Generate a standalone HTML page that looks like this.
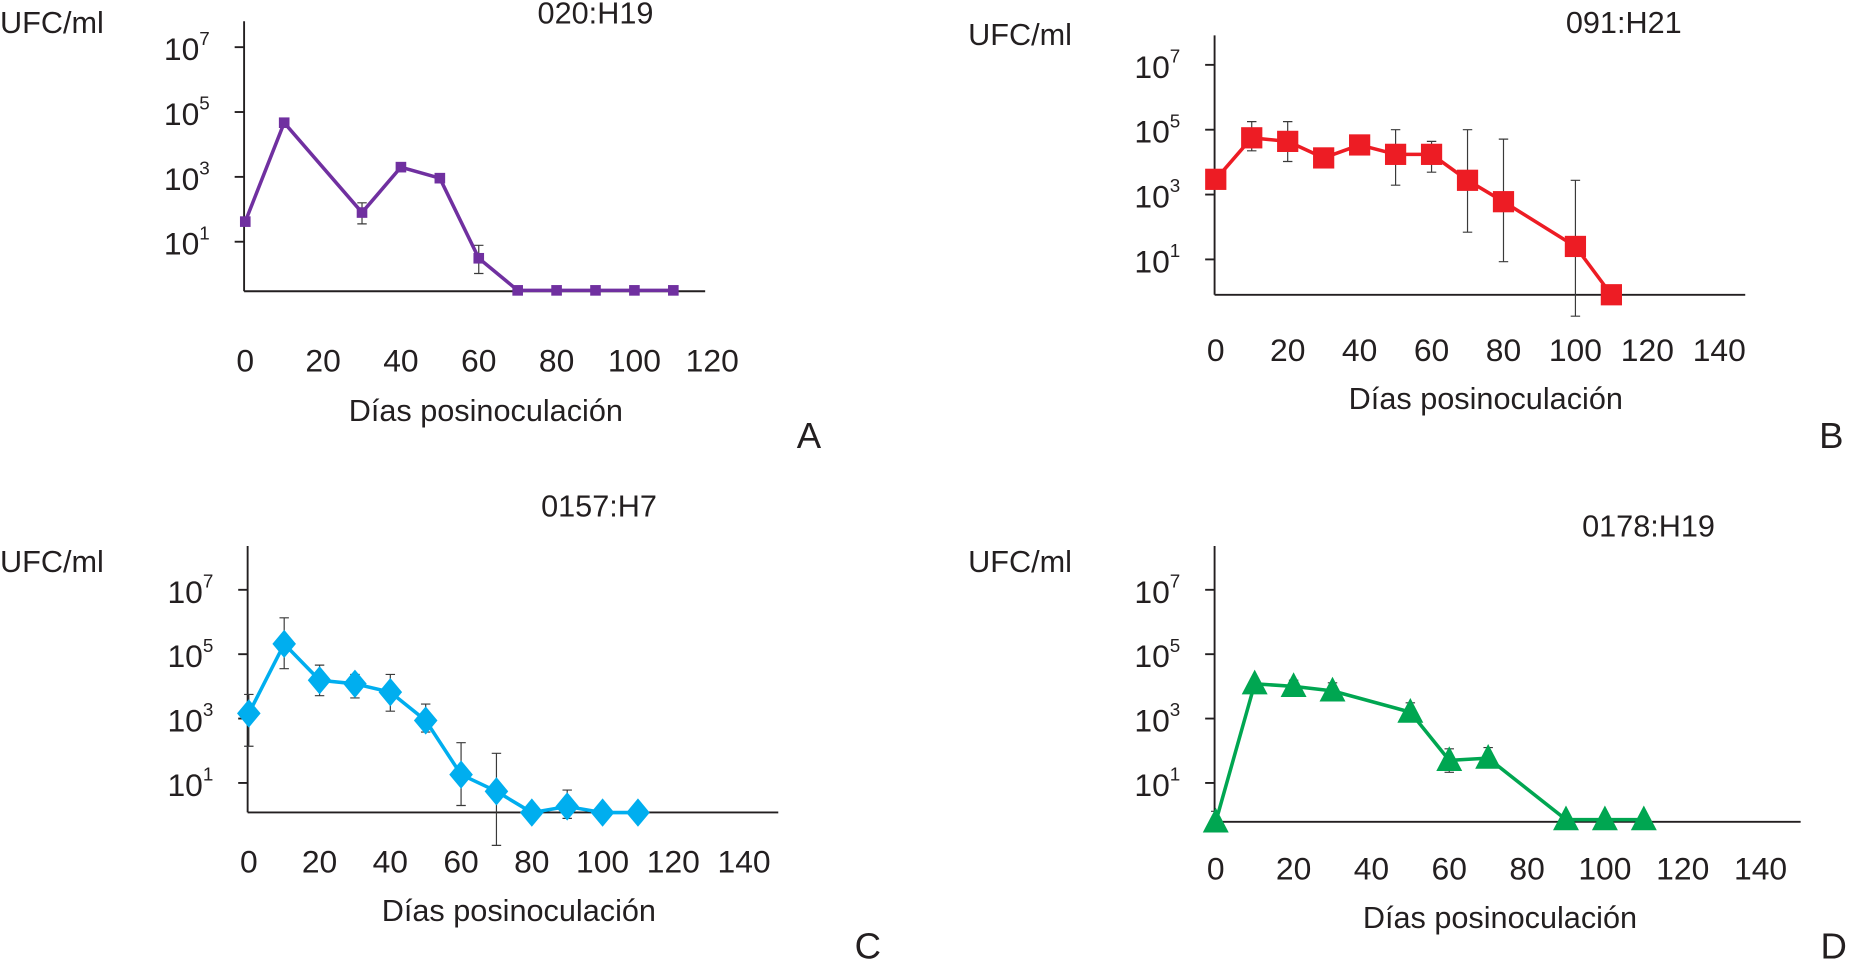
<!DOCTYPE html>
<html><head><meta charset="utf-8"><style>
html,body{margin:0;padding:0;background:#fff;width:1849px;height:961px;overflow:hidden}
svg{display:block}
text{font-family:"Liberation Sans",Arial,sans-serif;fill:#231f20}
</style></head><body>
<svg id="chart" width="1849" height="961" viewBox="0 0 1568 815" preserveAspectRatio="none" xmlns="http://www.w3.org/2000/svg"></svg>
<script>
// ---- data (log10 UFC/ml) ----
const yTickExps = [1, 3, 5, 7];

const titleA = "020:H19";
const daysA = [0, 10, 30, 40, 50, 60, 70, 80, 90, 100, 110];
const valsA = [1.62, 4.67, 1.9, 3.3, 2.96, 0.49, -0.5, -0.5, -0.5, -0.5, -0.5];
const errLoA = [null, null, 1.55, null, null, 0.02, null, null, null, null, null];
const errHiA = [null, null, 2.2, null, null, 0.89, null, null, null, null, null];
const xTicksA = [0, 20, 40, 60, 80, 100, 120];

const titleB = "091:H21";
const daysB = [0, 10, 20, 30, 40, 50, 60, 70, 80, 100, 110];
const valsB = [3.47, 4.75, 4.64, 4.13, 4.53, 4.24, 4.24, 3.44, 2.78, 1.4, -0.09];
const errLoB = [null, 4.35, 4.02, null, null, 3.29, 3.69, 1.84, 0.93, -0.75, null];
const errHiB = [null, 5.25, 5.25, null, null, 5.0, 4.64, 5.0, 4.71, 3.44, null];
const xTicksB = [0, 20, 40, 60, 80, 100, 120, 140];

const titleC = "0157:H7";
const daysC = [0, 10, 20, 30, 40, 50, 60, 70, 80, 90, 100, 110];
const valsC = [3.16, 5.32, 4.19, 4.08, 3.82, 2.94, 1.26, 0.74, 0.08, 0.27, 0.08, 0.08];
const errLoC = [2.14, 4.55, 3.71, 3.64, 3.23, 2.58, 0.3, -0.94, null, -0.1, null, null];
const errHiC = [3.75, 6.13, 4.66, 4.37, 4.37, 3.45, 2.25, 1.92, null, 0.78, null, null];
const xTicksC = [0, 20, 40, 60, 80, 100, 120, 140];

const titleD = "0178:H19";
const daysD = [0, 10, 20, 30, 50, 60, 70, 90, 100, 110];
const valsD = [-0.21, 4.08, 4.0, 3.86, 3.2, 1.7, 1.77, -0.14, -0.14, -0.14];
const errLoD = [null, null, null, null, null, 1.33, null, null, null, null];
const errHiD = [0.12, 4.22, 4.19, 4.11, 3.49, 2.06, 2.1, -0.03, -0.03, -0.03];
const xTicksD = [0, 20, 40, 60, 80, 100, 120, 140];

const NS = "http://www.w3.org/2000/svg";
const svg = document.getElementById("chart");
function mk(tag, attrs, parent) {
  const e = document.createElementNS(NS, tag);
  for (const k in attrs) e.setAttribute(k, attrs[k]);
  (parent || svg).appendChild(e);
  return e;
}

const panels = [
  {id:"a", title:titleA, d:daysA, v:valsA, lo:errLoA, hi:errHiA, xt:xTicksA, color:"#7030a0", marker:"smallsq",
   ax:207, axTop:18, base:247, axRight:598, y1:205, dec:27.5, pxDay:3.3, tickY:315,
   ufc:[0,28], titleXY:[505,20], xtitle:[412,357], letter:["A",686,380]},
  {id:"b", title:titleB, d:daysB, v:valsB, lo:errLoB, hi:errHiB, xt:xTicksB, color:"#ed1c24", marker:"square",
   ax:1030, axTop:30, base:250, axRight:1480, y1:220, dec:27.5, pxDay:3.05, tickY:306,
   ufc:[821,38], titleXY:[1377,28], xtitle:[1260,347], letter:["B",1553,380]},
  {id:"c", title:titleC, d:daysC, v:valsC, lo:errLoC, hi:errHiC, xt:xTicksC, color:"#00aeef", marker:"diamond",
   ax:210, axTop:463, base:689, axRight:660, y1:664, dec:27.3, pxDay:3.0, tickY:740,
   ufc:[0,485], titleXY:[508,438], xtitle:[440,781], letter:["C",736,813]},
  {id:"d", title:titleD, d:daysD, v:valsD, lo:errLoD, hi:errHiD, xt:xTicksD, color:"#00a651", marker:"triangle",
   ax:1030, axTop:463, base:697, axRight:1527, y1:664, dec:27.3, pxDay:3.3, tickY:746,
   ufc:[821,485], titleXY:[1398,455], xtitle:[1272,787], letter:["D",1555,813]}
];

panels.forEach(p => {
  const g = mk("g", {});
  
  
  const xS = d => p.ax + 1 + d * p.pxDay;
  const yS = l => p.y1 - (l - 1) * p.dec;

  const u = mk("text", {x:p.ufc[0], y:p.ufc[1], "font-size":26}, g);
  u.textContent = "UFC/ml";
  
  

  const t = mk("text", {x:p.titleXY[0], y:p.titleXY[1], "font-size":26, "text-anchor":"middle"}, g);
  t.textContent = p.title;
  
  

  const xt = mk("text", {x:p.xtitle[0], y:p.xtitle[1], "font-size":26, "text-anchor":"middle"}, g);
  xt.textContent = "Días posinoculación";
  
  

  const lt = mk("text", {x:p.letter[1], y:p.letter[2], "font-size":31, "text-anchor":"middle"}, g);
  lt.textContent = p.letter[0];
  
  

  const ya = mk("line", {x1:p.ax, y1:p.axTop, x2:p.ax, y2:p.base, stroke:"#231f20", "stroke-width":1.6}, g);
  
  
  const xa = mk("line", {x1:p.ax, y1:p.base, x2:p.axRight, y2:p.base, stroke:"#231f20", "stroke-width":1.6}, g);
  
  

  yTickExps.forEach(e => {
    const y = yS(e);
    const tk = mk("line", {x1:p.ax - 8, y1:y, x2:p.ax, y2:y, stroke:"#231f20", "stroke-width":1.6}, g);
    
    
    const lab = mk("text", {x:p.ax - 68, y:y + 11, "font-size":27}, g);
    lab.textContent = "10";
    const sup = mk("tspan", {dy:-13, "font-size":16}, lab);
    sup.textContent = String(e);
    
    
  });

  p.xt.forEach(d => {
    const lab = mk("text", {x:xS(d), y:p.tickY, "font-size":27, "text-anchor":"middle"}, g);
    lab.textContent = String(d);
    
    
  });

  p.d.forEach((d, i) => {
    if (p.hi[i] === null && p.lo[i] === null) return;
    const x = xS(d);
    const yt = yS(p.hi[i] !== null ? p.hi[i] : p.v[i]);
    const yb = yS(p.lo[i] !== null ? p.lo[i] : p.v[i]);
    const eb = mk("path", {d:`M${x},${yt}V${yb}M${x-4},${yt}H${x+4}` + (p.lo[i] !== null ? `M${x-4},${yb}H${x+4}` : ""),
      stroke:"#3a3a3a", "stroke-width":1, fill:"none"}, g);
    
    
  });

  const pts = p.d.map((d, i) => xS(d) + "," + yS(p.v[i])).join(" ");
  const line = mk("polyline", {points:pts, fill:"none", stroke:p.color, "stroke-width":3, "stroke-linejoin":"round"}, g);
  
  

  p.d.forEach((d, i) => {
    const x = xS(d), y = yS(p.v[i]);
    let m;
    if (p.marker === "smallsq") m = mk("rect", {x:x-4.5, y:y-4.5, width:9, height:9, fill:p.color}, g);
    else if (p.marker === "square") m = mk("rect", {x:x-9, y:y-9, width:18, height:18, fill:p.color}, g);
    else if (p.marker === "diamond") m = mk("polygon", {points:`${x},${y-12} ${x+10},${y} ${x},${y+12} ${x-10},${y}`, fill:p.color}, g);
    else m = mk("polygon", {points:`${x},${y-12} ${x+11},${y+9} ${x-11},${y+9}`, fill:p.color}, g);
    
    
  });
});
</script>
</body></html>
